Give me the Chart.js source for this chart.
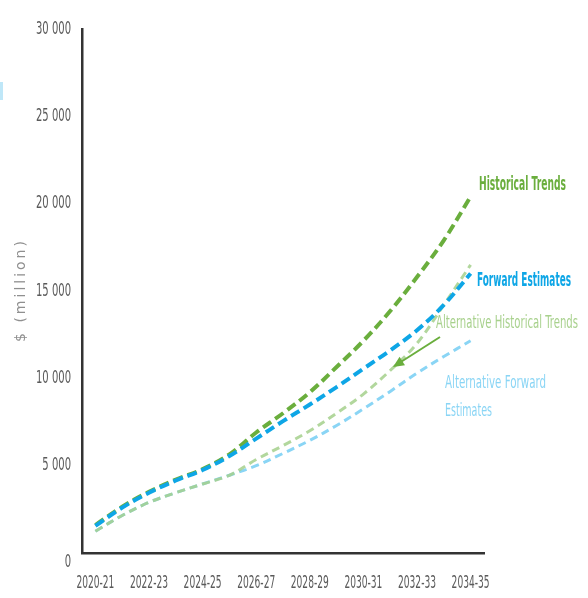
<!DOCTYPE html>
<html>
<head>
<meta charset="utf-8">
<script src="https://cdn.jsdelivr.net/npm/chart.js@4/dist/chart.umd.min.js"></script>
<style>
  html, body { margin: 0; padding: 0; background: #ffffff; }
  #wrap { position: relative; width: 588px; height: 598px; }
  #edge { position: absolute; left: 0; top: 82px; width: 3px; height: 18px; background: #bfe7f8; }
</style>
</head>
<body>
<div id="wrap">
  <canvas id="chart" width="588" height="598"></canvas>
  <div id="edge"></div>
</div>
<script>
// Financial years on the horizontal axis
const years = ['2020-21', '2021-22', '2022-23', '2023-24', '2024-25', '2025-26', '2026-27',
  '2027-28', '2028-29', '2029-30', '2030-31', '2031-32', '2032-33', '2033-34', '2034-35'];

// Projected spending, $ million
const historicalTrends = [1600, 2650, 3500, 4200, 4800, 5650, 6900, 8000, 9200, 10650, 12150, 13850, 15800, 17900, 20400];
const forwardEstimates = [1550, 2600, 3450, 4150, 4750, 5550, 6550, 7550, 8500, 9500, 10550, 11600, 12750, 14200, 16000];
const altHistoricalTrends = [1250, 2150, 2900, 3450, 3950, 4450, 5350, 6150, 7000, 8000, 9100, 10450, 12000, 14200, 16500];
const altForwardEstimates = [1250, 2150, 2900, 3450, 3950, 4450, 5000, 5700, 6450, 7300, 8250, 9250, 10300, 11250, 12150];

// Vertical axis ticks
const yTicks = [0, 5000, 10000, 15000, 20000, 25000, 30000];

const GREEN = '#6aae3d';
const BLUE = '#0ea6e6';
const LIGHT_GREEN = 'rgba(165, 208, 140, 0.85)';
const LIGHT_BLUE = '#8ad5f5';
const LIGHT_GREEN_TEXT = '#a8d18d';
const TICK_GREY = '#5a5a5a';
const NARROW = '"Liberation Sans Narrow", "DejaVu Sans Condensed", "Arial Narrow", sans-serif';

function spaced(v) {
  return String(v).replace(/\B(?=(\d{3})+(?!\d))/g, ' ');
}

// Draws a string squeezed horizontally so that it spans the given width
function fitText(ctx, str, x, y, font, color, width, align) {
  ctx.save();
  ctx.font = font;
  const sx = width / ctx.measureText(str).width;
  ctx.translate(x, y);
  ctx.scale(sx, 1);
  ctx.fillStyle = color;
  ctx.textAlign = align || 'left';
  ctx.textBaseline = 'middle';
  ctx.fillText(str, 0, 0);
  ctx.restore();
}

// Condensed tick labels placed at the scale's own tick positions
const condensedTicks = {
  id: 'condensedTicks',
  afterDraw(chart) {
    const ctx = chart.ctx;
    const ys = chart.scales.y;
    const xs = chart.scales.x;
    const font = '18px ' + NARROW;
    ctx.save();
    ctx.font = font;
    const syW = 35 / ctx.measureText('30 000').width;
    const sxW = 38 / ctx.measureText('2020-21').width;
    ctx.restore();

    ys.ticks.forEach(t => {
      const label = spaced(t.value);
      ctx.save();
      ctx.font = font;
      const w = ctx.measureText(label).width * syW;
      ctx.restore();
      const y = ys.getPixelForValue(t.value) + (t.value === 0 ? 9 : 0);
      fitText(ctx, label, ys.right - 11, y, font, TICK_GREY, w, 'right');
    });

    xs.ticks.forEach((t, i) => {
      if (i % 2 !== 0) return;
      const label = xs.getLabelForValue(t.value);
      ctx.save();
      ctx.font = font;
      const w = ctx.measureText(label).width * sxW;
      ctx.restore();
      fitText(ctx, label, xs.getPixelForTick(i), 583, font, TICK_GREY, w, 'center');
    });
  }
};

// Series names, y-axis title and the pointer arrow
const annotations = {
  id: 'annotations',
  afterDraw(chart) {
    const ctx = chart.ctx;
    fitText(ctx, 'Historical Trends', 479, 185, 'bold 19px ' + NARROW, GREEN, 87);
    fitText(ctx, 'Forward Estimates', 477, 281, 'bold 19px ' + NARROW, BLUE, 94);
    fitText(ctx, 'Alternative Historical Trends', 436, 323, '18px ' + NARROW, LIGHT_GREEN_TEXT, 142);
    fitText(ctx, 'Alternative Forward', 445, 383, '18px ' + NARROW, LIGHT_BLUE, 101);
    fitText(ctx, 'Estimates', 445, 411, '18px ' + NARROW, LIGHT_BLUE, 47);

    // arrow pointing at the alternative historical line
    const x1 = 440, y1 = 337, x2 = 393, y2 = 367;
    const ang = Math.atan2(y2 - y1, x2 - x1);
    ctx.save();
    ctx.strokeStyle = GREEN;
    ctx.fillStyle = GREEN;
    ctx.lineWidth = 2;
    ctx.beginPath();
    ctx.moveTo(x1, y1);
    ctx.lineTo(x2 - 6 * Math.cos(ang), y2 - 6 * Math.sin(ang));
    ctx.stroke();
    ctx.beginPath();
    ctx.moveTo(x2, y2);
    ctx.lineTo(x2 - 11 * Math.cos(ang) + 5 * Math.sin(ang), y2 - 11 * Math.sin(ang) - 5 * Math.cos(ang));
    ctx.lineTo(x2 - 11 * Math.cos(ang) - 5 * Math.sin(ang), y2 - 11 * Math.sin(ang) + 5 * Math.cos(ang));
    ctx.closePath();
    ctx.fill();
    ctx.restore();

    // y-axis title
    ctx.save();
    ctx.translate(21, 290);
    ctx.rotate(-Math.PI / 2);
    ctx.font = '14px "DejaVu Sans", sans-serif';
    ctx.letterSpacing = '3px';
    ctx.fillStyle = '#8f8f8f';
    ctx.textAlign = 'center';
    ctx.textBaseline = 'middle';
    ctx.fillText('$ (million)', 0, 0);
    ctx.restore();
  }
};

const line = (data, color, width, dash, order) => ({
  data,
  borderColor: color,
  borderWidth: width,
  borderDash: dash,
  borderCapStyle: 'butt',
  pointRadius: 0,
  tension: 0.35,
  fill: false,
  order
});

new Chart(document.getElementById('chart'), {
  type: 'line',
  data: {
    labels: years,
    datasets: [
      line(forwardEstimates, BLUE, 4, [10, 5], 1),
      line(historicalTrends, GREEN, 4, [10, 5], 2),
      line(altHistoricalTrends, LIGHT_GREEN, 3, [8, 5], 3),
      line(altForwardEstimates, LIGHT_BLUE, 3, [8, 5], 4)
    ]
  },
  options: {
    responsive: false,
    animation: false,
    layout: { padding: { top: 29, right: 104, bottom: 0, left: 0 } },
    plugins: { legend: { display: false }, tooltip: { enabled: false } },
    scales: {
      x: {
        offset: true,
        grid: { display: false, drawTicks: false },
        border: { display: true, color: '#333333', width: 2.5 },
        afterFit(scale) { scale.height = 45; },
        ticks: { display: false, autoSkip: false }
      },
      y: {
        min: 0,
        max: 30000,
        afterFit(scale) { scale.width = 82; },
        afterBuildTicks(scale) { scale.ticks = yTicks.map(v => ({ value: v })); },
        grid: { display: false, drawTicks: false },
        border: { display: true, color: '#333333', width: 2.5 },
        ticks: { display: false }
      }
    }
  },
  plugins: [condensedTicks, annotations]
});
</script>
</body>
</html>
